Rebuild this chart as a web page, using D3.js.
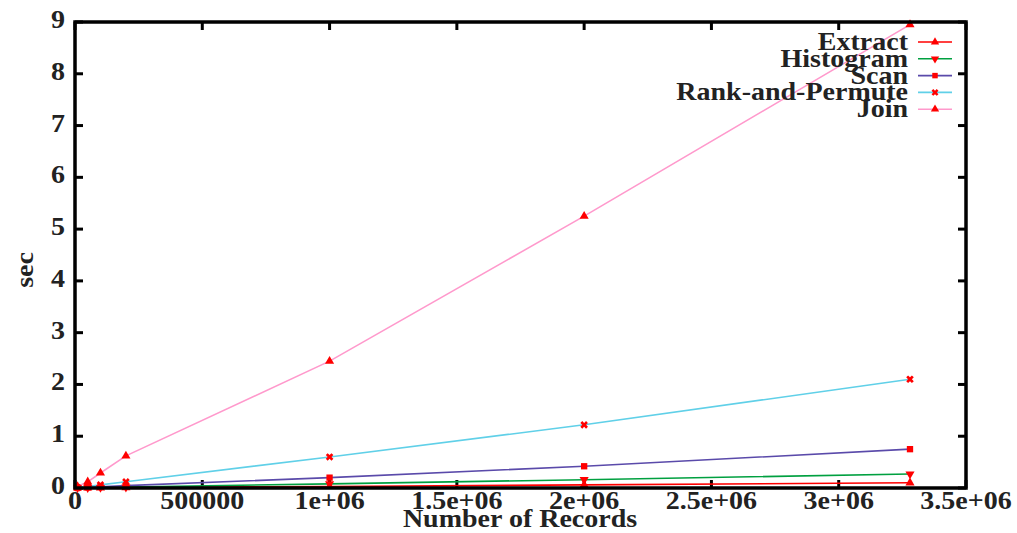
<!DOCTYPE html>
<html><head><meta charset="utf-8">
<script src="https://cdn.jsdelivr.net/npm/d3@7"></script>
<style>body{margin:0;background:#fff}svg{display:block}text{font-family:"Liberation Serif","DejaVu Serif",serif;font-weight:bold}</style>
</head><body><svg id="c" width="1017" height="533"></svg>
<script>
const records = [10000, 50000, 100000, 200000, 1000000, 2000000, 3280000];
const seriesNames = ["Extract", "Histogram", "Scan", "Rank-and-Permute", "Join"];
const extract = [0.001, 0.002, 0.004, 0.007, 0.03, 0.06, 0.1];
const histogram = [0.002, 0.005, 0.009, 0.017, 0.08, 0.16, 0.27];
const scan = [0.003, 0.012, 0.025, 0.045, 0.2, 0.42, 0.75];
const rankPermute = [0.007, 0.03, 0.06, 0.12, 0.6, 1.22, 2.1];
const join = [0.03, 0.12, 0.29, 0.62, 2.45, 5.25, 8.95];
const xTicks = [0, 500000, 1000000, 1500000, 2000000, 2500000, 3000000, 3500000];
const xTickLabels = ["0", "500000", "1e+06", "1.5e+06", "2e+06", "2.5e+06", "3e+06", "3.5e+06"];
const yTicks = [0, 1, 2, 3, 4, 5, 6, 7, 8, 9];

const values = [extract, histogram, scan, rankPermute, join];
const colors = ["#ff0000", "#00a040", "#5a4aaa", "#60d0e8", "#ff99cc"];
const symbols = [d3.symbolTriangle, d3.symbolTriangle, d3.symbolSquare, d3.symbolCross, d3.symbolTriangle];
const rot = [0, 180, 0, 45, 0];

const svg = d3.select("#c");
const L = 75, R = 966, T = 22, B = 488;
const x = d3.scaleLinear().domain([0, 3500000]).range([L, R]);
const y = d3.scaleLinear().domain([0, 9]).range([B, T]);
const FS = 25, SX = 1.12;
function txt(px, py, s, anchor, extra) {
  return svg.append("text")
    .attr("transform", `translate(${px},${py}) ${extra || ""} scale(${SX},1)`)
    .attr("text-anchor", anchor).attr("font-size", FS).attr("fill", "#222").text(s);
}

// ticks (inward, mirrored)
const tl = 8;
const g = svg.append("g");
xTicks.forEach((t, i) => {
  g.append("line").attr("x1", x(t)).attr("x2", x(t)).attr("y1", B).attr("y2", B - tl).attr("stroke", "#000").attr("stroke-width", 3);
  g.append("line").attr("x1", x(t)).attr("x2", x(t)).attr("y1", T).attr("y2", T + tl).attr("stroke", "#000").attr("stroke-width", 3);
  txt(x(t), 509, xTickLabels[i], "middle");
});
yTicks.forEach(t => {
  g.append("line").attr("x1", L).attr("x2", L + tl).attr("y1", y(t)).attr("y2", y(t)).attr("stroke", "#000").attr("stroke-width", 3);
  g.append("line").attr("x1", R).attr("x2", R - tl).attr("y1", y(t)).attr("y2", y(t)).attr("stroke", "#000").attr("stroke-width", 3);
  txt(65, y(t) + 6, t, "end");
});

// lines
const line = d3.line().x((d, i) => x(records[i])).y(d => y(d));
values.forEach((v, k) => {
  svg.append("path").datum(v).attr("d", line).attr("fill", "none").attr("stroke", colors[k]).attr("stroke-width", 1.6);
});
values.forEach((v, k) => {
  svg.selectAll(null).data(v).enter().append("path")
    .attr("d", d3.symbol().type(symbols[k]).size(k === 2 ? 40 : 36))
    .attr("transform", (d, i) => `translate(${x(records[i])},${y(d)}) rotate(${rot[k]})`)
    .attr("fill", "#ff0000");
});

// frame
svg.append("rect").attr("x", L).attr("y", T).attr("width", R - L).attr("height", B - T).attr("fill", "none").attr("stroke", "#000").attr("stroke-width", 3.5);

// legend
seriesNames.forEach((n, k) => {
  const yy = 42 + k * 16.8;
  txt(908, yy + 8, n, "end");
  svg.append("line").attr("x1", 918).attr("x2", 952).attr("y1", yy).attr("y2", yy).attr("stroke", colors[k]).attr("stroke-width", 1.6);
  svg.append("path").attr("d", d3.symbol().type(symbols[k]).size(30)).attr("transform", `translate(935,${yy}) rotate(${rot[k]})`).attr("fill", "#ff0000");
});

// axis titles
txt(33, 270, "sec", "middle", "rotate(-90)");
txt(520, 527, "Number of Records", "middle");
</script></body></html>
